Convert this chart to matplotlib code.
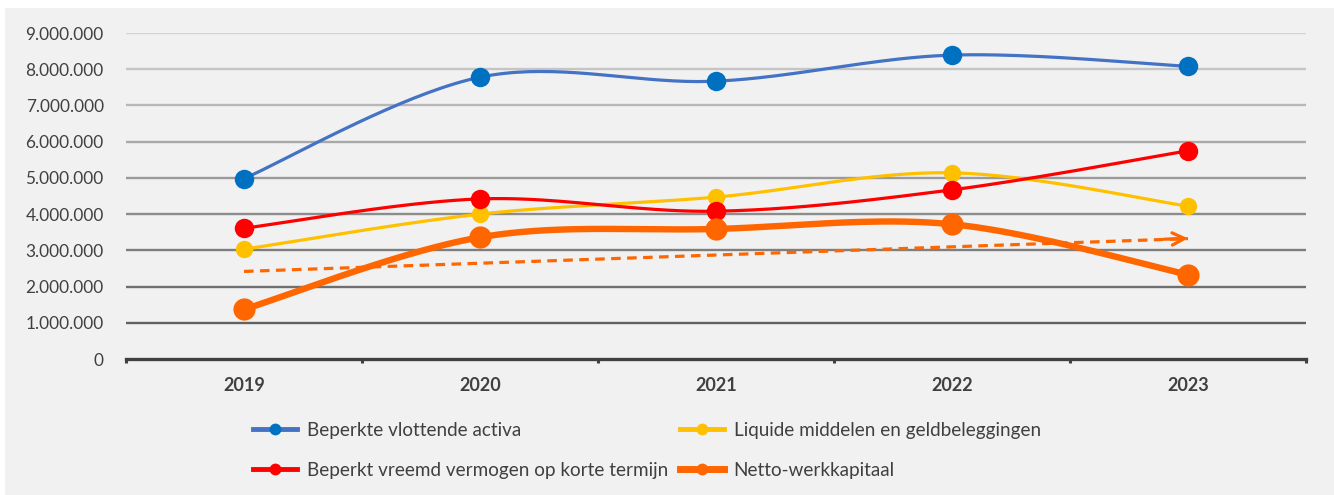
import numpy as np
import matplotlib.pyplot as plt
from matplotlib.patches import Rectangle
from matplotlib.lines import Line2D

years = ["2019", "2020", "2021", "2022", "2023"]

vlottende_activa = [4980000, 7780000, 7670000, 8390000, 8080000]
liquide_middelen = [3030000, 4000000, 4470000, 5140000, 4220000]
vreemd_vermogen = [3610000, 4420000, 4080000, 4670000, 5750000]
werkkapitaal = [1370000, 3360000, 3590000, 3720000, 2330000]

y_ticks = [0, 1000000, 2000000, 3000000, 4000000, 5000000,
           6000000, 7000000, 8000000, 9000000]


def smooth(xs, ys, n=40):
    # Catmull-Rom style bezier through every point, like spreadsheet "smoothed line"
    pts = np.column_stack([xs, ys]).astype(float)
    ext = np.vstack([pts[0], pts, pts[-1]])
    out = []
    t = np.linspace(0, 1, n)[:, None]
    for i in range(len(pts) - 1):
        p0, p1, p2, p3 = ext[i], ext[i + 1], ext[i + 2], ext[i + 3]
        c1 = p1 + (p2 - p0) / 6
        c2 = p2 - (p3 - p1) / 6
        seg = ((1 - t) ** 3 * p1 + 3 * (1 - t) ** 2 * t * c1
               + 3 * (1 - t) * t ** 2 * c2 + t ** 3 * p2)
        out.append(seg if i == 0 else seg[1:])
    out = np.vstack(out)
    return out[:, 0], out[:, 1]


def dotted_thousands(v):
    return f"{int(v):,}".replace(",", ".")


plt.rcParams["font.family"] = ["Lato", "DejaVu Sans"]

fig = plt.figure(figsize=(13.34, 4.95), dpi=100, facecolor="white")
bg = "#F1F1F1"
fig.patches.append(Rectangle((5 / 1334, 0), 1, 487 / 495, transform=fig.transFigure,
                             facecolor=bg, edgecolor="none", zorder=-10))

ax = fig.add_axes([126 / 1334, 1 - 359 / 495, 1180 / 1334, 326 / 495])
ax.set_facecolor(bg)
ax.patch.set_alpha(0)

x = np.arange(len(years))

# horizontal gridlines fade from light at the top to dark at the bottom
for i, yt in enumerate(y_ticks[1:]):
    frac = i / (len(y_ticks) - 2)
    g = 0.38 + frac * (0.83 - 0.38)
    ax.axhline(yt, color=(g, g, g), lw=1.7, zorder=1)

series = [
    (vlottende_activa, "Beperkte vlottende activa", "#4472C4", "#0070C0", 2.3, 14),
    (liquide_middelen, "Liquide middelen en geldbeleggingen", "#FFC000", "#FFC000", 2.3, 12.5),
    (vreemd_vermogen, "Beperkt vreemd vermogen op korte termijn", "#FF0000", "#FF0000", 2.3, 14),
    (werkkapitaal, "Netto-werkkapitaal", "#FF6600", "#FF6600", 4.6, 16),
]

handles = []
for vals, label, lc, mc, lw, ms in series:
    sx, sy = smooth(x, vals)
    ax.plot(sx, sy, color=lc, lw=lw, solid_capstyle="round", zorder=3)
    ax.plot(x, vals, "o", color=mc, ms=ms, mec="none", zorder=4)
    handles.append(Line2D([], [], color=lc, lw=min(lw + 1.2, 5), marker="o", ms=8.5,
                          mfc=mc, mec="none", label=label))

# linear trend of the net working capital
slope, intercept = np.polyfit(x, werkkapitaal, 1)
trend = slope * x + intercept
ax.plot(x[[0, -1]], trend[[0, -1]] - [0, slope * 0.03], color="#FF6600", lw=2.3,
        dashes=(3, 2), zorder=5)
ax.annotate("", xy=(x[-1], trend[-1]), xytext=(x[-1] - 0.1, trend[-1] - slope * 0.1),
            arrowprops=dict(arrowstyle="->", color="#FF6600", lw=2.3,
                            mutation_scale=22, shrinkA=0, shrinkB=0), zorder=5)

ax.set_xlim(-0.5, len(years) - 0.5)
ax.set_ylim(0, 9000000)
ax.set_yticks(y_ticks)
ax.set_yticklabels([dotted_thousands(v) for v in y_ticks], fontsize=12.4, color="#404040")
ax.tick_params(axis="y", length=0, pad=16)

ax.set_xticks(x)
ax.set_xticklabels(years, fontsize=13, fontweight="bold", color="#404040")
ax.tick_params(axis="x", length=0, pad=13)
for b in np.arange(-0.5, len(years)):
    ax.plot([b, b], [0, -120000], color="#404040", lw=2.2, clip_on=False,
            solid_capstyle="butt", zorder=6)

for side in ["top", "right", "left"]:
    ax.spines[side].set_visible(False)
ax.spines["bottom"].set_color("#404040")
ax.spines["bottom"].set_linewidth(2.4)
ax.spines["bottom"].set_zorder(6)

order = [handles[0], handles[2], handles[1], handles[3]]
fig.legend(handles=order, loc="upper left", bbox_to_anchor=(253 / 1334, 1 - 422 / 495),
           ncol=2, frameon=False, fontsize=13.6, handlelength=2.35, handletextpad=0.5,
           columnspacing=0.62, labelspacing=1.2, borderpad=0, borderaxespad=0,
           labelcolor="#404040")

fig.savefig("out.png", dpi=100, facecolor="white")
